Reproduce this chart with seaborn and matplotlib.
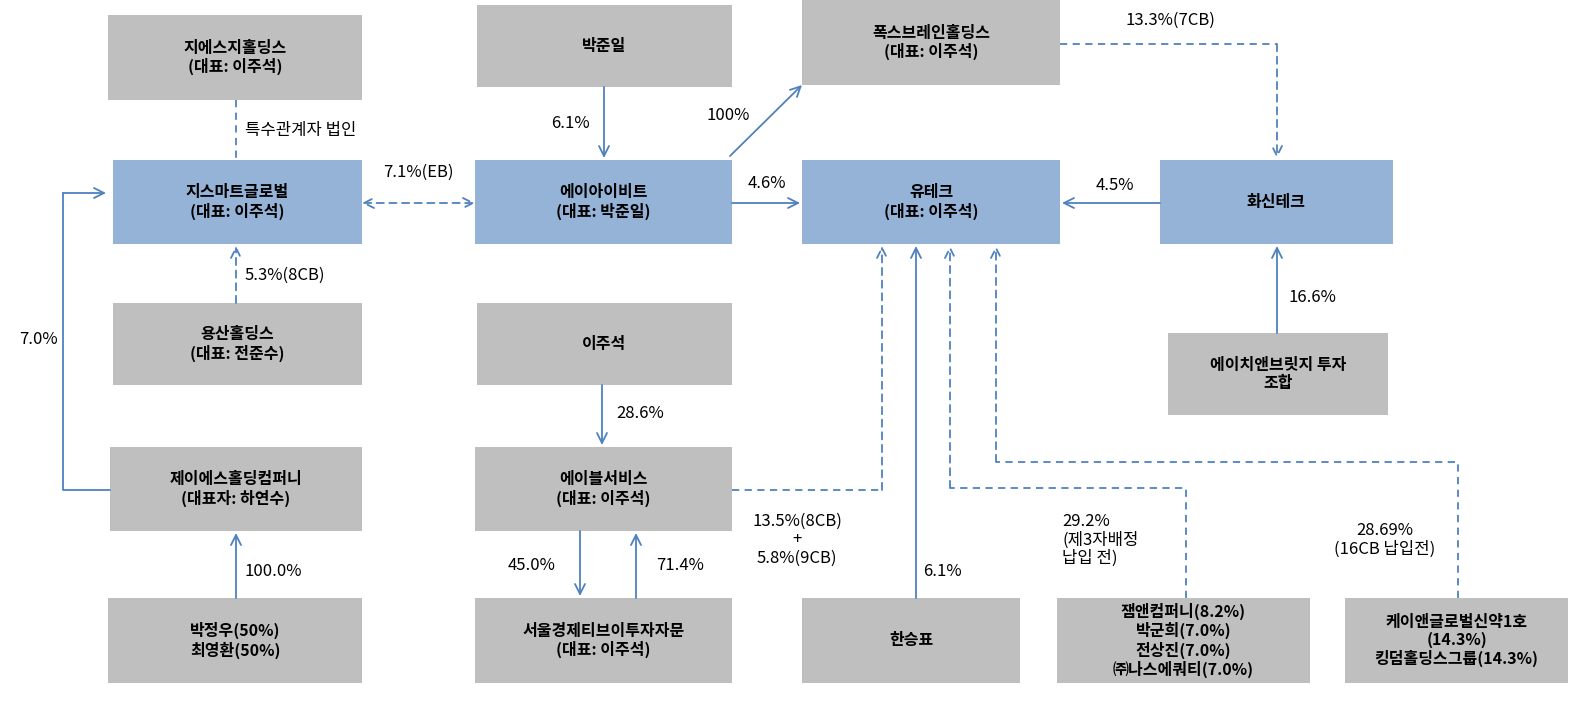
import matplotlib
matplotlib.use("Agg")
import matplotlib.pyplot as plt
import seaborn as sns
from matplotlib.patches import Rectangle

sns.set_theme(style="white")
plt.rcParams["font.family"] = "Noto Sans CJK KR"

GRAY = "#BFBFBF"
BLUE = "#95B3D7"
LINE = "#4F81BD"

# Entities
box_labels = [
    "지에스지홀딩스\n(대표: 이주석)", "박준일", "폭스브레인홀딩스\n(대표: 이주석)",
    "지스마트글로벌\n(대표: 이주석)", "에이아이비트\n(대표: 박준일)", "유테크\n(대표: 이주석)", "화신테크",
    "용산홀딩스\n(대표: 전준수)", "이주석", "에이치앤브릿지 투자\n조합",
    "제이에스홀딩컴퍼니\n(대표자: 하연수)", "에이블서비스\n(대표: 이주석)",
    "박정우(50%)\n최영환(50%)", "서울경제티브이투자자문\n(대표: 이주석)", "한승표",
    "잼앤컴퍼니(8.2%)\n박군희(7.0%)\n전상진(7.0%)\n㈜나스에쿼티(7.0%)",
    "케이앤글로벌신약1호\n(14.3%)\n킹덤홀딩스그룹(14.3%)",
]
box_colors = [GRAY, GRAY, GRAY, BLUE, BLUE, BLUE, BLUE, GRAY, GRAY, GRAY,
              GRAY, GRAY, GRAY, GRAY, GRAY, GRAY, GRAY]
box_rects = [
    (108, 15, 362, 100), (477, 5, 732, 87), (802, 0, 1060, 85),
    (113, 160, 362, 244), (475, 160, 732, 244), (802, 160, 1060, 244), (1160, 160, 1393, 244),
    (113, 303, 362, 385), (477, 303, 732, 385), (1168, 333, 1388, 415),
    (110, 447, 362, 531), (475, 447, 732, 531),
    (108, 598, 362, 683), (475, 598, 732, 683), (802, 598, 1020, 683),
    (1057, 598, 1310, 683), (1345, 598, 1568, 683),
]

# Ownership links: path, dashed, arrow style
link_paths = [
    [(236, 100), (236, 160)],
    [(362, 203), (475, 203)],
    [(236, 303), (236, 246)],
    [(110, 490), (63, 490), (63, 193), (106, 193)],
    [(236, 598), (236, 533)],
    [(604, 87), (604, 158)],
    [(730, 156), (802, 85)],
    [(732, 203), (800, 203)],
    [(1060, 44), (1277, 44), (1277, 158)],
    [(1160, 203), (1062, 203)],
    [(1277, 333), (1277, 246)],
    [(602, 385), (602, 445)],
    [(732, 490), (882, 490), (882, 246)],
    [(580, 531), (580, 596)],
    [(636, 598), (636, 533)],
    [(916, 598), (916, 246)],
    [(1186, 598), (1186, 488), (950, 488), (950, 246)],
    [(1458, 598), (1458, 462), (996, 462), (996, 246)],
]
link_dashed = [True, True, True, False, False, False, False, False, True, False,
               False, False, True, False, False, False, True, True]
link_arrow = ["", "<->", "->", "->", "->", "->", "->", "->", "->", "->",
              "->", "->", "->", "->", "->", "->", "->", "->"]

link_texts = ["특수관계자 법인", "7.1%(EB)", "5.3%(8CB)", "7.0%", "100.0%", "6.1%", "100%",
              "4.6%", "13.3%(7CB)", "4.5%", "16.6%", "28.6%", "13.5%(8CB)\n+\n5.8%(9CB)",
              "45.0%", "71.4%", "6.1%", "29.2%\n(제3자배정\n납입 전)", "28.69%\n(16CB 납입전)"]
text_pos = [(245, 130, "left"), (418, 172, "center"), (245, 275, "left"), (38, 340, "center"),
            (245, 572, "left"), (570, 123, "center"), (728, 115, "center"), (767, 183, "center"),
            (1170, 20, "center"), (1115, 185, "center"), (1312, 297, "center"), (640, 413, "center"),
            (797, 540, "center"), (532, 565, "center"), (680, 565, "center"), (942, 572, "center"),
            (1062, 540, "left"), (1385, 540, "center")]

fig = plt.figure(figsize=(15.91, 7.06), dpi=100)
ax = fig.add_axes([0, 0, 1, 1])
ax.set_xlim(0, 1591)
ax.set_ylim(706, 0)
ax.axis("off")

for lab, col, (x0, y0, x1, y1) in zip(box_labels, box_colors, box_rects):
    ax.add_patch(Rectangle((x0, y0), x1 - x0, y1 - y0, facecolor=col, edgecolor="none"))
    ax.text((x0 + x1) / 2, (y0 + y1) / 2, lab, ha="center", va="center",
            fontsize=11.5, fontweight="bold", color="black", linespacing=1.15)

for path, dashed, arr in zip(link_paths, link_dashed, link_arrow):
    ls = (0, (4, 3)) if dashed else "-"
    xs = [p[0] for p in path]
    ys = [p[1] for p in path]
    if arr == "":
        ax.plot(xs, ys, color=LINE, lw=1.3, linestyle=ls)
        continue
    ax.plot(xs[:-1], ys[:-1], color=LINE, lw=1.3, linestyle=ls)
    ax.annotate("", xy=path[-1], xytext=path[-2],
                arrowprops=dict(arrowstyle=arr, color=LINE, lw=1.3, linestyle=ls,
                                shrinkA=0, shrinkB=0, mutation_scale=18))

for t, (x, y, ha) in zip(link_texts, text_pos):
    ax.text(x, y, t, ha=ha, va="center", fontsize=12, color="black", linespacing=1.1)

fig.savefig("out.png", dpi=100)
